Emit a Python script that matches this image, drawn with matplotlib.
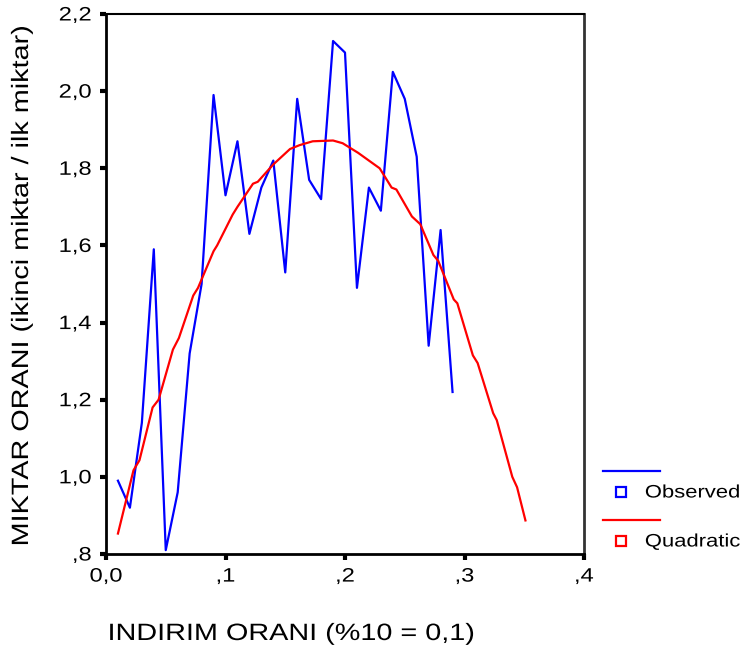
import matplotlib
matplotlib.use("Agg")
import matplotlib.pyplot as plt
from matplotlib.lines import Line2D
from matplotlib.ticker import FuncFormatter
from matplotlib.patheffects import AbstractPathEffect
from matplotlib.transforms import Affine2D

plt.rcParams['font.family'] = ['Liberation Sans', 'DejaVu Sans']

# observed ratio by discount rate
obs_x = [0.01, 0.02, 0.03, 0.04, 0.05, 0.06, 0.07, 0.08, 0.09, 0.10,
         0.11, 0.12, 0.13, 0.14, 0.15, 0.16, 0.17, 0.18, 0.19, 0.20,
         0.21, 0.22, 0.23, 0.24, 0.25, 0.26, 0.27, 0.28, 0.29]
obs_y = [0.99, 0.92, 1.14, 1.59, 0.81, 0.96, 1.32, 1.50, 1.99, 1.73,
         1.87, 1.63, 1.75, 1.82, 1.53, 1.98, 1.77, 1.72, 2.13, 2.10,
         1.49, 1.75, 1.69, 2.05, 1.98, 1.83, 1.34, 1.64, 1.22]

# quadratic fit values
quad_x = [0.010, 0.023, 0.028, 0.039, 0.044, 0.056, 0.061, 0.073, 0.077, 0.090,
          0.093, 0.106, 0.110, 0.123, 0.127, 0.140, 0.154, 0.162, 0.173, 0.190,
          0.198, 0.211, 0.229, 0.239, 0.243, 0.256, 0.263, 0.274, 0.278, 0.291,
          0.294, 0.307, 0.311, 0.324, 0.327, 0.340, 0.344, 0.351]
quad_y = [0.853, 1.017, 1.043, 1.180, 1.200, 1.330, 1.360, 1.470, 1.490, 1.585,
          1.600, 1.680, 1.700, 1.760, 1.765, 1.810, 1.850, 1.860, 1.870, 1.872,
          1.865, 1.840, 1.800, 1.750, 1.745, 1.675, 1.655, 1.575, 1.560, 1.460,
          1.450, 1.315, 1.295, 1.165, 1.147, 1.000, 0.973, 0.887]

xticks = [0.0, 0.1, 0.2, 0.3, 0.4]
yticks = [0.8, 1.0, 1.2, 1.4, 1.6, 1.8, 2.0, 2.2]

W, H = 749, 656
WIDE = 1.22  # horizontal stretch of the lettering


class Stretch(AbstractPathEffect):
    """Widen glyphs along the text direction, keeping one edge fixed."""

    def __init__(self, sx, anchor="center"):
        super().__init__()
        self.sx = sx
        self.anchor = anchor

    def draw_path(self, renderer, gc, tpath, affine, rgbFace=None):
        ext = tpath.get_extents()
        x0 = {"left": ext.x0, "center": (ext.x0 + ext.x1) / 2,
              "right": ext.x1}[self.anchor]
        st = Affine2D().translate(-x0, 0).scale(self.sx, 1).translate(x0, 0)
        renderer.draw_path(gc, tpath, st + affine, rgbFace)


def spss_fmt(v, pos=None):
    s = f"{v:.1f}".replace(".", ",")
    if s.startswith("0,") and v != 0:
        s = s[1:]
    return s


def fx(px):
    return px / W


def fy(py):
    return 1 - py / H


fig = plt.figure(figsize=(W / 100, H / 100), dpi=100)
ax = fig.add_axes([fx(106), fy(554), fx(584) - fx(106), fy(14) - fy(554)])

ax.plot(obs_x, obs_y, color="#0000ff", lw=1.6)
ax.plot(quad_x, quad_y, color="#ff0000", lw=1.6)

ax.set_xlim(0, 0.4)
ax.set_ylim(0.8, 2.2)
ax.set_xticks(xticks)
ax.set_yticks(yticks)
ax.xaxis.set_major_formatter(FuncFormatter(spss_fmt))
ax.yaxis.set_major_formatter(FuncFormatter(spss_fmt))
ax.tick_params(direction="out", length=4.5, width=3, labelsize=14)
ax.tick_params(axis="y", pad=6)
ax.tick_params(axis="x", pad=6)

for t in ax.xaxis.get_major_ticks():
    t.label1.set_path_effects([Stretch(WIDE, "center")])
for t in ax.yaxis.get_major_ticks():
    t.label1.set_path_effects([Stretch(WIDE, "right")])

for side in ["left", "bottom"]:
    ax.spines[side].set_linewidth(2)
ax.spines["top"].set_linewidth(1.5)
ax.spines["right"].set_linewidth(2)
ax.spines["right"].set_color("#333333")

# axis titles
fig.text(fx(108), fy(634), "INDIRIM ORANI (%10 = 0,1)", fontsize=17,
         ha="left", va="center", path_effects=[Stretch(WIDE, "left")])
fig.text(fx(22), fy(285), "MIKTAR ORANI (ikinci miktar / ilk miktar)", fontsize=17,
         rotation=90, ha="center", va="center", path_effects=[Stretch(WIDE, "center")])

# legend beside the plot area
for color, label, ly in [("#0000ff", "Observed", 471), ("#ff0000", "Quadratic", 520)]:
    fig.add_artist(Line2D([fx(603), fx(660)], [fy(ly)] * 2, color=color, lw=1.6))
    fig.add_artist(Line2D([fx(621)], [fy(ly + 21)], marker="s", ms=6.5, mfc="white",
                          mec=color, mew=1.6, ls="none"))
    fig.text(fx(645), fy(ly + 22), label, fontsize=13, ha="left", va="center",
             path_effects=[Stretch(WIDE, "left")])

fig.savefig("out.png", dpi=100)
